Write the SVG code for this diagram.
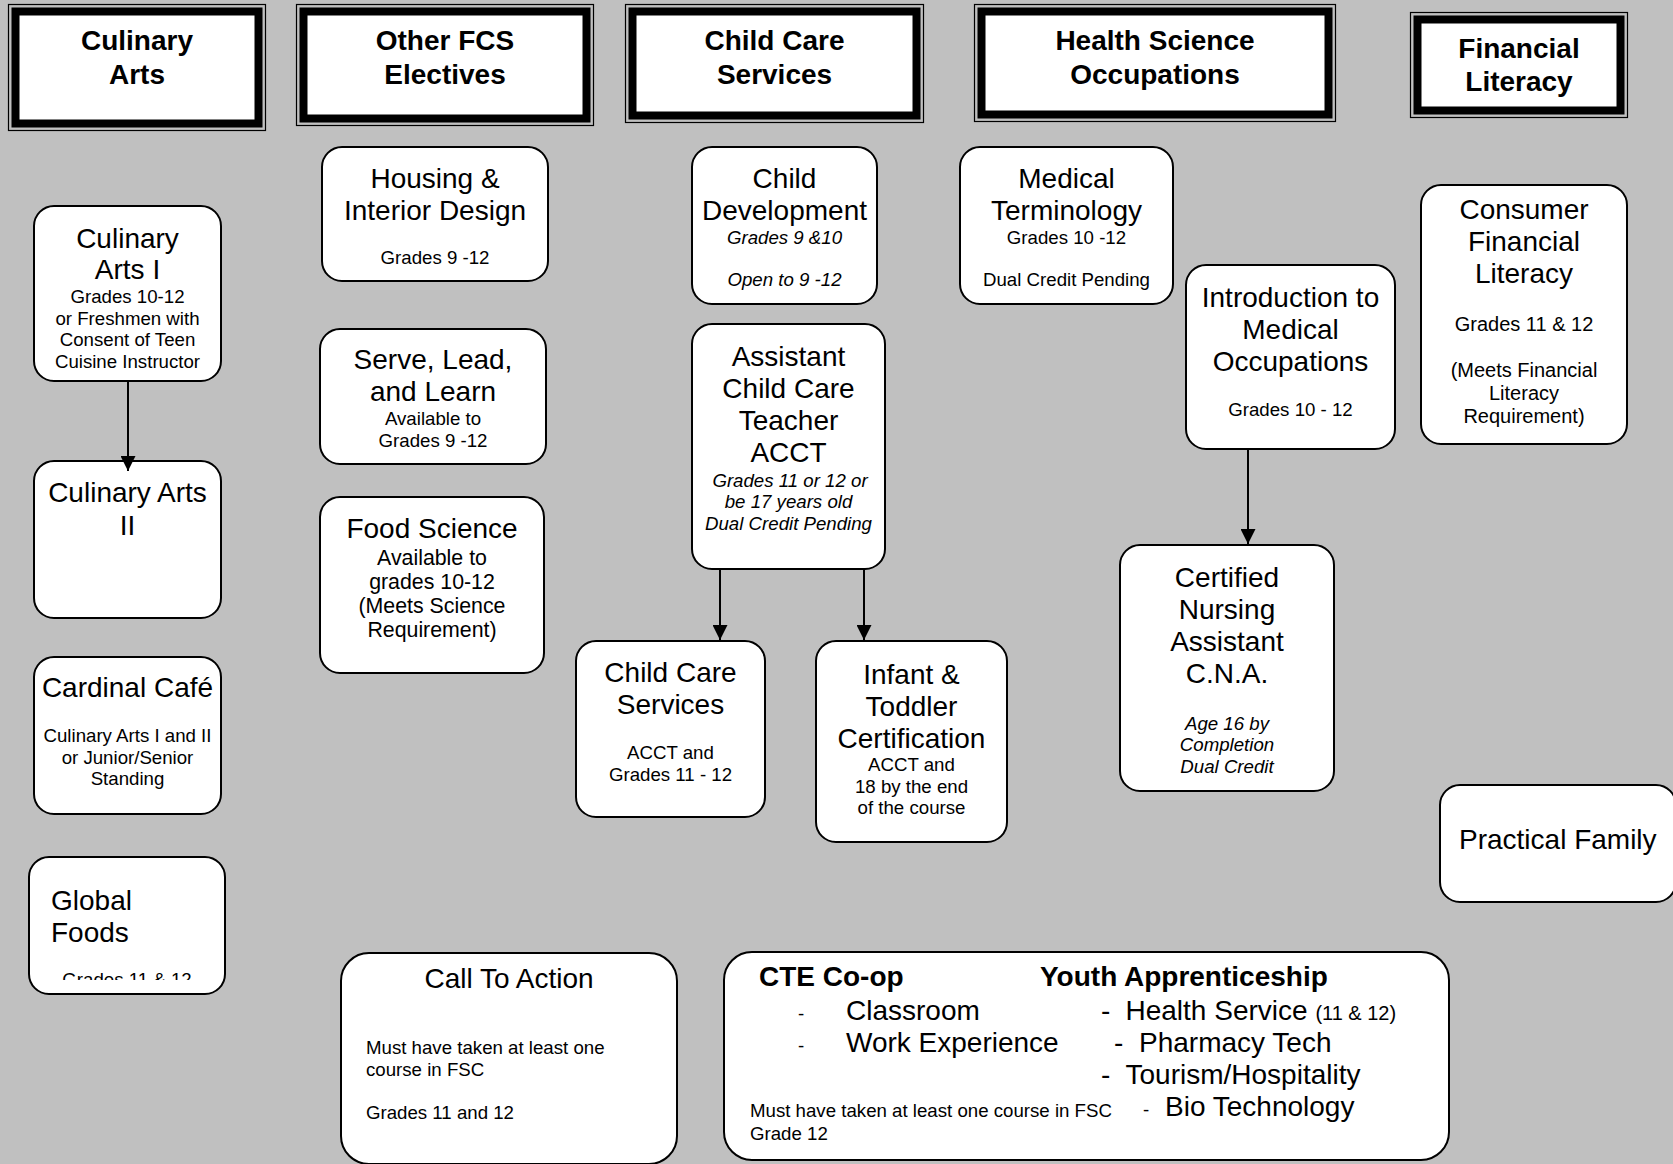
<svg xmlns="http://www.w3.org/2000/svg" width="1673" height="1164" viewBox="0 0 1673 1164">
<style>
text{font-family:"Liberation Sans",Arial,Helvetica,sans-serif;fill:#000}
.c{text-anchor:middle}
.t28{font-size:28px}
.t21{font-size:21.33px}
.t20{font-size:20px}
.t19{font-size:18.67px}
.b{font-weight:bold}
.i{font-style:italic}
.box{fill:#fff;stroke:#000;stroke-width:2}
.hout{fill:none;stroke:#000;stroke-width:1.2}
.hband{fill:#000}
.hin{fill:#fff}
.conn{stroke:#000;stroke-width:2;fill:none;marker-end:url(#arr)}
</style>
<defs>
<marker id="arr" viewBox="0 0 15 15" refX="15" refY="7.5" markerWidth="15" markerHeight="15" markerUnits="userSpaceOnUse" orient="auto">
<path d="M0,0 L15,7.5 L0,15 z" fill="#000"/>
</marker>
<clipPath id="gfclip"><rect x="29" y="857" width="196" height="123"/></clipPath>
</defs>
<rect x="0" y="0" width="1673" height="1164" fill="#C0C0C0"/>

<g id="hdr-culinary">
<rect class="hout" x="8.5" y="4.5" width="257" height="126"/>
<rect class="hband" x="11.5" y="7.5" width="251" height="120"/>
<rect class="hin" x="19.5" y="15.5" width="235" height="104"/>
<text class="c t28 b" x="137" y="50">Culinary</text>
<text class="c t28 b" x="137" y="83.5">Arts</text>
</g>
<g id="hdr-otherfcs">
<rect class="hout" x="296.5" y="4.5" width="297" height="121"/>
<rect class="hband" x="299.5" y="7.5" width="291" height="115"/>
<rect class="hin" x="307.5" y="15.5" width="275" height="99"/>
<text class="c t28 b" x="445" y="50">Other FCS</text>
<text class="c t28 b" x="445" y="83.5">Electives</text>
</g>
<g id="hdr-childcare">
<rect class="hout" x="625.5" y="4.5" width="298" height="118"/>
<rect class="hband" x="628.5" y="7.5" width="292" height="112"/>
<rect class="hin" x="636.5" y="15.5" width="276" height="96"/>
<text class="c t28 b" x="774.5" y="50">Child Care</text>
<text class="c t28 b" x="774.5" y="83.5">Services</text>
</g>
<g id="hdr-health">
<rect class="hout" x="974.5" y="4.5" width="361" height="117"/>
<rect class="hband" x="977.5" y="7.5" width="355" height="111"/>
<rect class="hin" x="985.5" y="15.5" width="339" height="95"/>
<text class="c t28 b" x="1155" y="50">Health Science</text>
<text class="c t28 b" x="1155" y="83.5">Occupations</text>
</g>
<g id="hdr-financial">
<rect class="hout" x="1410.5" y="12.5" width="217" height="105"/>
<rect class="hband" x="1413.5" y="15.5" width="211" height="99"/>
<rect class="hin" x="1421.5" y="23.5" width="195" height="83"/>
<text class="c t28 b" x="1519" y="58">Financial</text>
<text class="c t28 b" x="1519" y="91">Literacy</text>
</g>

<g id="culinary-arts-1">
<rect class="box" x="34" y="206" width="187" height="175" rx="20"/>
<text class="c t28" x="127.5" y="247.5">Culinary</text>
<text class="c t28" x="127.5" y="279">Arts I</text>
<text class="c t19" x="127.5" y="303">Grades 10-12</text>
<text class="c t19" x="127.5" y="324.5">or Freshmen with</text>
<text class="c t19" x="127.5" y="346">Consent of Teen</text>
<text class="c t19" x="127.5" y="367.5">Cuisine Instructor</text>
</g>
<g id="culinary-arts-2">
<rect class="box" x="34" y="461" width="187" height="157" rx="20"/>
<text class="c t28" x="127.5" y="502">Culinary Arts</text>
<text class="c t28" x="127.5" y="534.5">II</text>
</g>
<g id="cardinal-cafe">
<rect class="box" x="34" y="657" width="187" height="157" rx="20"/>
<text class="c t28" x="127.5" y="697">Cardinal Café</text>
<text class="c t19" x="127.5" y="742">Culinary Arts I and II</text>
<text class="c t19" x="127.5" y="763.5">or Junior/Senior</text>
<text class="c t19" x="127.5" y="785">Standing</text>
</g>
<g id="global-foods">
<rect class="box" x="29" y="857" width="196" height="137" rx="20"/>
<text class="t28" x="51" y="910">Global</text>
<text class="t28" x="51" y="942">Foods</text>
<text class="c t19" x="127" y="985.5" clip-path="url(#gfclip)">Grades 11 &amp; 12</text>
</g>

<g id="housing">
<rect class="box" x="322" y="147" width="226" height="134" rx="20"/>
<text class="c t28" x="435" y="188">Housing &amp;</text>
<text class="c t28" x="435" y="220">Interior Design</text>
<text class="c t19" x="435" y="263.5">Grades 9 -12</text>
</g>
<g id="serve-lead-learn">
<rect class="box" x="320" y="329" width="226" height="135" rx="20"/>
<text class="c t28" x="433" y="368.5">Serve, Lead,</text>
<text class="c t28" x="433" y="400.5">and Learn</text>
<text class="c t19" x="433" y="425">Available to</text>
<text class="c t19" x="433" y="446.5">Grades 9 -12</text>
</g>
<g id="food-science">
<rect class="box" x="320" y="497" width="224" height="176" rx="20"/>
<text class="c t28" x="432" y="538">Food Science</text>
<text class="c t21" x="432" y="564.5">Available to</text>
<text class="c t21" x="432" y="589">grades 10-12</text>
<text class="c t21" x="432" y="613">(Meets Science</text>
<text class="c t21" x="432" y="637">Requirement)</text>
</g>

<g id="child-development">
<rect class="box" x="692" y="147" width="185" height="157" rx="20"/>
<text class="c t28" x="784.5" y="188">Child</text>
<text class="c t28" x="784.5" y="220">Development</text>
<text class="c t19 i" x="784.5" y="244">Grades 9 &amp;10</text>
<text class="c t19 i" x="784.5" y="286">Open to 9 -12</text>
</g>
<g id="acct">
<rect class="box" x="692" y="324" width="193" height="245" rx="20"/>
<text class="c t28" x="788.5" y="366">Assistant</text>
<text class="c t28" x="788.5" y="398">Child Care</text>
<text class="c t28" x="788.5" y="430">Teacher</text>
<text class="c t28" x="788.5" y="461.5">ACCT</text>
<text class="c t19 i" x="790" y="486.5"> Grades 11 or 12 or</text>
<text class="c t19 i" x="788.5" y="508">be 17 years old</text>
<text class="c t19 i" x="788.5" y="529.5">Dual Credit Pending</text>
</g>
<g id="child-care-services">
<rect class="box" x="576" y="641" width="189" height="176" rx="20"/>
<text class="c t28" x="670.5" y="682">Child Care</text>
<text class="c t28" x="670.5" y="714">Services</text>
<text class="c t19" x="670.5" y="759">ACCT and</text>
<text class="c t19" x="670.5" y="780.5">Grades 11 - 12</text>
</g>
<g id="infant-toddler">
<rect class="box" x="816" y="641" width="191" height="201" rx="20"/>
<text class="c t28" x="911.5" y="683.5">Infant &amp;</text>
<text class="c t28" x="911.5" y="715.5">Toddler</text>
<text class="c t28" x="911.5" y="747.5">Certification</text>
<text class="c t19" x="911.5" y="771">ACCT and</text>
<text class="c t19" x="911.5" y="792.5">18 by the end</text>
<text class="c t19" x="911.5" y="814">of the course</text>
</g>

<g id="medical-terminology">
<rect class="box" x="960" y="147" width="213" height="157" rx="20"/>
<text class="c t28" x="1066.5" y="188">Medical</text>
<text class="c t28" x="1066.5" y="220">Terminology</text>
<text class="c t19" x="1066.5" y="244">Grades 10 -12</text>
<text class="c t19" x="1066.5" y="286">Dual Credit Pending</text>
</g>
<g id="intro-medical">
<rect class="box" x="1186" y="265" width="209" height="184" rx="20"/>
<text class="c t28" x="1290.5" y="306.5">Introduction to</text>
<text class="c t28" x="1290.5" y="338.5">Medical</text>
<text class="c t28" x="1290.5" y="370.5">Occupations</text>
<text class="c t19" x="1290.5" y="415.5">Grades 10 - 12</text>
</g>
<g id="cna">
<rect class="box" x="1120" y="545" width="214" height="246" rx="20"/>
<text class="c t28" x="1227" y="586.5">Certified</text>
<text class="c t28" x="1227" y="618.5">Nursing</text>
<text class="c t28" x="1227" y="650.5">Assistant</text>
<text class="c t28" x="1227" y="682.5">C.N.A.</text>
<text class="c t19 i" x="1227" y="729.5">Age 16 by</text>
<text class="c t19 i" x="1227" y="751">Completion</text>
<text class="c t19 i" x="1227" y="772.5">Dual Credit</text>
</g>
<g id="consumer-financial">
<rect class="box" x="1421" y="185" width="206" height="259" rx="20"/>
<text class="c t28" x="1524" y="218.5">Consumer</text>
<text class="c t28" x="1524" y="250.5">Financial</text>
<text class="c t28" x="1524" y="283">Literacy</text>
<text class="c t20" x="1524" y="330.5">Grades 11 &amp; 12</text>
<text class="c t20" x="1524" y="377">(Meets Financial</text>
<text class="c t20" x="1524" y="400">Literacy</text>
<text class="c t20" x="1524" y="423">Requirement)</text>
</g>
<g id="practical-family">
<rect class="box" x="1440" y="785" width="236" height="117" rx="20"/>
<text class="t28" x="1459" y="848.5">Practical Family</text>
</g>

<g id="call-to-action">
<rect class="box" x="341" y="953" width="336" height="211" rx="28"/>
<text class="c t28" x="509" y="988">Call To Action</text>
<text class="t19" x="366" y="1054">Must have taken at least one</text>
<text class="t19" x="366" y="1075.5">course in FSC</text>
<text class="t19" x="366" y="1118.5">Grades 11 and 12</text>
</g>
<g id="cte-coop">
<rect class="box" x="724" y="952" width="725" height="208" rx="28"/>
<text class="t28 b" x="759" y="986">CTE Co-op</text>
<text class="t28 b" x="1040" y="986">Youth Apprenticeship</text>
<text class="t19" x="798" y="1019.5">-</text>
<text class="t28" x="846" y="1019.5">Classroom</text>
<text class="t19" x="798" y="1051.5">-</text>
<text class="t28" x="846" y="1051.5">Work Experience</text>
<text class="t28" x="1101" y="1019.5">-</text>
<text class="t28" x="1125.5" y="1019.5">Health Service <tspan class="t20">(11 &amp; 12)</tspan></text>
<text class="t28" x="1114" y="1051.5">-</text>
<text class="t28" x="1139" y="1051.5">Pharmacy Tech</text>
<text class="t28" x="1101" y="1083.5">-</text>
<text class="t28" x="1125.5" y="1083.5">Tourism/Hospitality</text>
<text class="t19" x="750" y="1117">Must have taken at least one course in FSC</text>
<text class="t19" x="1143" y="1115.5">-</text>
<text class="t28" x="1165" y="1115.5">Bio Technology</text>
<text class="t19" x="750" y="1140">Grade 12</text>
</g>

<g id="connectors">
<line class="conn" x1="128" y1="381" x2="128" y2="471"/>
<line class="conn" x1="720" y1="569" x2="720" y2="640"/>
<line class="conn" x1="864" y1="569" x2="864" y2="640"/>
<line class="conn" x1="1248" y1="449" x2="1248" y2="544"/>
</g>
</svg>
